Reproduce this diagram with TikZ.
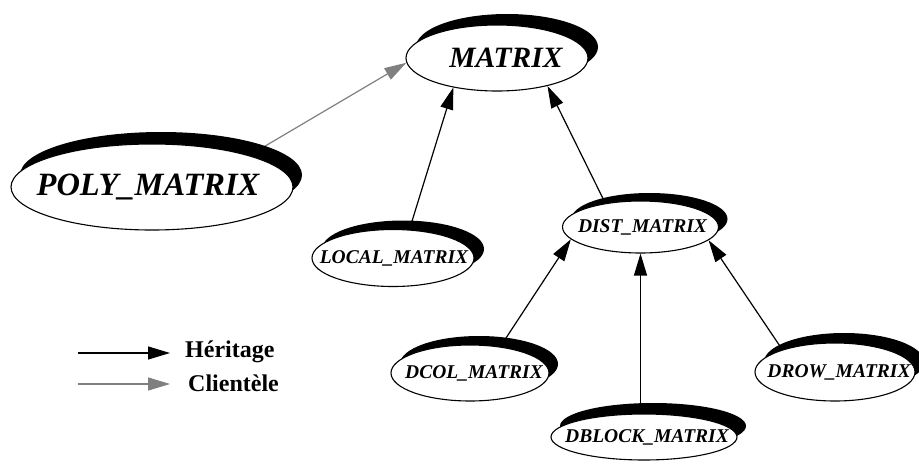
\documentclass[tikz,border=0pt]{standalone}
\usepackage{fontspec}
\setmainfont{Liberation Serif}
\usetikzlibrary{arrows.meta,shapes.geometric,shadows,backgrounds}
\begin{document}
\begin{tikzpicture}[x=1pt,y=-1pt,
  cls/.style={ellipse, draw=black, line width=1.1pt, fill=white, inner sep=0pt},
  shd/.style 2 args={drop shadow={shadow xshift=#1pt, shadow yshift=#2pt, fill=black, opacity=1}},
  bigtxt/.style={inner sep=0pt, font=\bfseries\itshape\fontsize{29.5}{34}\selectfont},
  hugetxt/.style={inner sep=0pt, font=\bfseries\itshape\fontsize{32.5}{38}\selectfont},
  smalltxt/.style={inner sep=0pt, font=\bfseries\itshape\fontsize{19.5}{23}\selectfont},
  herit/.style={draw=black, line width=1.2pt, -{Triangle[length=22pt,width=13pt]}},
  client/.style={draw=black!50, line width=1.2pt, -{Triangle[length=22pt,width=13pt]}},
  legtext/.style={font=\bfseries\fontsize{24}{28}\selectfont, anchor=base west, inner sep=0pt}
]
\useasboundingbox (0,0) rectangle (919,466);

\node[cls, minimum width=182pt, minimum height=66pt, shd={10}{11},
      label={[bigtxt,xshift=9pt]center:MATRIX}] (matrix) at (497,58) {};
\node[cls, minimum width=282pt, minimum height=86pt, shd={9}{12},
      label={[hugetxt,xshift=-4pt]center:POLY\_MATRIX}] (poly) at (152,187) {};
\node[cls, minimum width=162pt, minimum height=57pt, shd={10}{9},
      label={[smalltxt,xshift=1pt]center:LOCAL\_MATRIX}] (local) at (393,258) {};
\node[cls, minimum width=156pt, minimum height=52pt, shd={9}{8},
      label={[smalltxt,xshift=2pt]center:DIST\_MATRIX}] (dist) at (640.5,227) {};
\node[cls, minimum width=158pt, minimum height=56pt, shd={9}{9},
      label={[smalltxt,xshift=4pt]center:DCOL\_MATRIX}] (dcol) at (470,373) {};
\node[cls, minimum width=160pt, minimum height=58pt, shd={9}{10},
      label={[smalltxt,xshift=4pt]center:DROW\_MATRIX}] (drow) at (835,372) {};
\node[cls, minimum width=186pt, minimum height=46pt, shd={9}{11},
      label={[smalltxt,xshift=3pt]center:DBLOCK\_MATRIX}] (dblock) at (644,437) {};

\begin{pgfonlayer}{background}
  \fill[white] (0,0) rectangle (919,466);
  \draw[client] (poly.18) -- (matrix.183);
  \draw[herit] (local.60) -- (matrix.214);
  \draw[herit] (dist.146) -- (matrix.331);
  \draw[herit] (dcol.41) -- (dist.190);
  \draw[herit] (dblock.north -| dist.south) -- (dist.south);
  \draw[herit] (drow.157) -- (dist.349);
\end{pgfonlayer}

\coordinate (hs) at (78,353);
\coordinate (he) at (170,353);
\coordinate (cs) at (78,384);
\coordinate (ce) at (170,384);
\draw[herit] (hs) -- (he);
\draw[client] (cs) -- (ce);
\node[legtext] (lh) at (185,357) {Héritage};
\node[legtext] (lc) at (188,391) {Clientèle};
\end{tikzpicture}
\end{document}
